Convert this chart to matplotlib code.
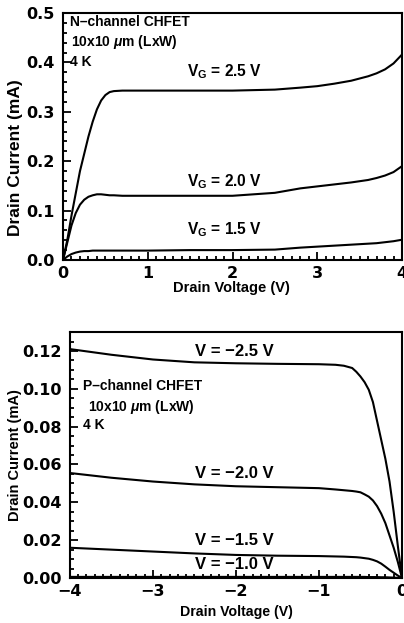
import matplotlib
matplotlib.use("Agg")
import matplotlib.pyplot as plt
from matplotlib.ticker import MultipleLocator, FormatStrFormatter, FuncFormatter

plt.rcParams['font.family'] = ['Liberation Sans', 'DejaVu Sans']
plt.rcParams['font.weight'] = 'bold'
plt.rcParams['mathtext.fontset'] = 'custom'
plt.rcParams['mathtext.rm'] = 'Liberation Sans:bold'
plt.rcParams['mathtext.it'] = 'Liberation Sans:italic:bold'
plt.rcParams['mathtext.bf'] = 'Liberation Sans:bold'

# ---- N-channel data ----
vd_n = [0, 0.05, 0.1, 0.15, 0.2, 0.25, 0.3, 0.35, 0.4, 0.45, 0.5, 0.55, 0.6, 0.7,
        0.8, 1.0, 1.5, 2.0, 2.5, 2.8, 3.0, 3.2, 3.4, 3.6, 3.7, 3.8, 3.9, 4.0]
id_n_25 = [0, 0.04, 0.09, 0.135, 0.18, 0.215, 0.25, 0.28, 0.305, 0.323, 0.334, 0.340,
           0.342, 0.343, 0.343, 0.343, 0.343, 0.343, 0.345, 0.349, 0.352, 0.357,
           0.363, 0.372, 0.378, 0.386, 0.398, 0.416]
id_n_20 = [0, 0.035, 0.07, 0.095, 0.112, 0.122, 0.128, 0.131, 0.133, 0.133, 0.132,
           0.131, 0.131, 0.130, 0.130, 0.130, 0.130, 0.130, 0.136, 0.145, 0.149,
           0.153, 0.157, 0.162, 0.166, 0.171, 0.178, 0.190]
id_n_15 = [0, 0.007, 0.012, 0.015, 0.017, 0.018, 0.018, 0.019, 0.019, 0.019, 0.019,
           0.019, 0.019, 0.019, 0.019, 0.019, 0.020, 0.020, 0.021, 0.025, 0.027,
           0.029, 0.031, 0.033, 0.034, 0.036, 0.038, 0.041]
labels_n = ["V$_\\mathrm{G}$ = 2.5 V", "V$_\\mathrm{G}$ = 2.0 V", "V$_\\mathrm{G}$ = 1.5 V"]
label_n_y = [0.382, 0.159, 0.061]

# ---- P-channel data ----
vd_p = [-4, -3.5, -3, -2.5, -2, -1.5, -1, -0.8, -0.7, -0.6, -0.55, -0.5, -0.45, -0.4,
        -0.35, -0.3, -0.25, -0.2, -0.15, -0.1, -0.05, 0]
id_p_25 = [0.121, 0.118, 0.1155, 0.114, 0.1135, 0.1132, 0.113, 0.1127, 0.1122, 0.111,
           0.109, 0.1065, 0.1035, 0.0995, 0.093, 0.083, 0.073, 0.063, 0.051, 0.035,
           0.017, 0]
id_p_20 = [0.0555, 0.053, 0.051, 0.0495, 0.0485, 0.048, 0.0475, 0.0468, 0.0464, 0.046,
           0.0457, 0.0453, 0.0442, 0.043, 0.041, 0.038, 0.034, 0.029, 0.0225, 0.016,
           0.0085, 0]
id_p_15 = [0.016, 0.015, 0.014, 0.013, 0.0122, 0.0118, 0.0116, 0.0114, 0.0113, 0.0111,
           0.011, 0.0108, 0.0105, 0.0102, 0.0096, 0.0088, 0.0076, 0.006, 0.0043,
           0.0028, 0.0013, 0]
id_p_10 = [0.0006, 0.0006, 0.0006, 0.0006, 0.0006, 0.0006, 0.0006, 0.0006, 0.0006,
           0.0006, 0.0006, 0.0006, 0.0006, 0.0005, 0.0005, 0.0005, 0.0004, 0.0004,
           0.0003, 0.0002, 0.0001, 0]
labels_p = ["V = \u22122.5 V", "V = \u22122.0 V", "V = \u22121.5 V", "V = \u22121.0 V"]
label_p_y = [0.1196, 0.0553, 0.020, 0.0069]

fig = plt.figure(figsize=(4.04, 6.23), dpi=100)
ax1 = fig.add_axes([0.156, 0.5827, 0.839, 0.3963])
ax2 = fig.add_axes([0.173, 0.0722, 0.822, 0.3948])

lw = 1.5
for y in (id_n_25, id_n_20, id_n_15):
    ax1.plot(vd_n, y, color='black', lw=lw, solid_joinstyle='round')
for y in (id_p_25, id_p_20, id_p_15, id_p_10):
    ax2.plot(vd_p, y, color='black', lw=lw, solid_joinstyle='round')

for lab, yy in zip(labels_n, label_n_y):
    ax1.text(1.46, yy, lab, fontsize=11.2, fontweight='bold', va='center', ha='left')
for lab, yy in zip(labels_p, label_p_y):
    ax2.text(-2.49, yy, lab, fontsize=12, fontweight='bold', va='center', ha='left')

tfs = 10
ax1.text(0.08, 0.481, "N\u2013channel CHFET", fontsize=tfs, fontweight='bold', va='center')
ax1.text(0.10, 0.441, "10x10 $\\mu$m (LxW)", fontsize=tfs, fontweight='bold', va='center')
ax1.text(0.08, 0.401, "4 K", fontsize=tfs, fontweight='bold', va='center')

ax2.text(-3.84, 0.1015, "P\u2013channel CHFET", fontsize=tfs, fontweight='bold', va='center')
ax2.text(-3.78, 0.0905, "10x10 $\\mu$m (LxW)", fontsize=tfs, fontweight='bold', va='center')
ax2.text(-3.84, 0.081, "4 K", fontsize=tfs, fontweight='bold', va='center')

ax1.set_xlim(0, 4)
ax1.set_ylim(0, 0.5)
ax1.xaxis.set_major_locator(MultipleLocator(1))
ax1.xaxis.set_minor_locator(MultipleLocator(0.1))
ax1.yaxis.set_major_locator(MultipleLocator(0.1))
ax1.yaxis.set_minor_locator(MultipleLocator(0.02))
ax1.yaxis.set_major_formatter(FormatStrFormatter('%.1f'))
ax1.xaxis.set_major_formatter(FormatStrFormatter('%d'))

ax2.set_xlim(-4, 0)
ax2.set_ylim(0, 0.13)
ax2.xaxis.set_major_locator(MultipleLocator(1))
ax2.xaxis.set_minor_locator(MultipleLocator(0.1))
ax2.yaxis.set_major_locator(MultipleLocator(0.02))
ax2.yaxis.set_minor_locator(MultipleLocator(0.005))
ax2.yaxis.set_major_formatter(FormatStrFormatter('%.2f'))
ax2.xaxis.set_major_formatter(
    FuncFormatter(lambda v, p: ('%d' % round(v)).replace('-', '\u2212')))

for ax in (ax1, ax2):
    ax.tick_params(which='both', direction='in', top=False, right=False,
                   labelsize=11.5, width=1.3)
    ax.tick_params(which='major', length=6)
    ax.tick_params(which='minor', length=3)
    ax.tick_params(axis='y', pad=6)
    ax.tick_params(axis='x', pad=4)
    for s in ax.spines.values():
        s.set_linewidth(1.5)
    for t in ax.get_xticklabels() + ax.get_yticklabels():
        t.set_fontweight('bold')
        t.set_family(['DejaVu Sans'])

ax1.set_xlabel("Drain Voltage (V)", fontsize=10.5, fontweight='bold', va='center')
ax1.set_ylabel("Drain Current (mA)", fontsize=12.5, fontweight='bold', va='center')
ax1.xaxis.set_label_coords(0.498, -0.113)
ax1.yaxis.set_label_coords(-0.1416, 0.413)

ax2.set_xlabel("Drain Voltage (V)", fontsize=10.2, fontweight='bold', va='center')
ax2.set_ylabel("Drain Current (mA)", fontsize=10.5, fontweight='bold', va='center')
ax2.xaxis.set_label_coords(0.503, -0.138)
ax2.yaxis.set_label_coords(-0.1657, 0.5)

fig.savefig("out.png", dpi=100)
